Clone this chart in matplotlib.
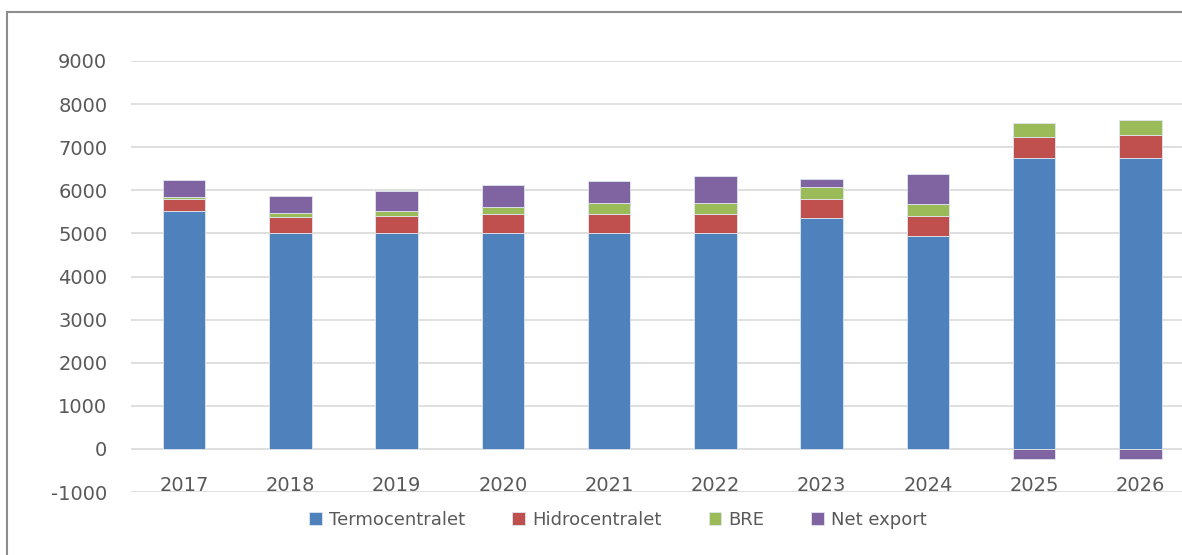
import matplotlib.pyplot as plt
import numpy as np
from matplotlib.patches import Rectangle

plt.rcParams['axes.unicode_minus'] = False

years = ['2017', '2018', '2019', '2020', '2021', '2022', '2023', '2024', '2025', '2026']
termo = [5530, 5000, 5000, 5000, 5000, 5000, 5350, 4950, 6760, 6760]
hidro = [270, 390, 410, 440, 450, 450, 450, 460, 480, 520]
bre = [50, 80, 120, 170, 250, 250, 280, 280, 310, 360]
net_export = [390, 390, 450, 510, 510, 630, 180, 690, -240, -240]

names = ['Termocentralet', 'Hidrocentralet', 'BRE', 'Net export']
colors = ['#4F81BD', '#C0504D', '#9BBB59', '#8064A2']

fig = plt.figure(figsize=(11.82, 5.55), dpi=100)
ax = fig.add_axes([0.1108, 0.1135, 0.899, 0.7766])

# outer frame like the excel chart area
fig.patches.append(Rectangle((0.006, -0.02), 1.1, 1.0 - 0.0216 + 0.02,
                             transform=fig.transFigure, fill=False,
                             edgecolor='#8c8c8c', linewidth=1.5))

x = np.arange(len(years))
w = 0.4
pos_bottom = np.zeros(len(years))
for vals, name, c in zip([termo, hidro, bre, net_export], names, colors):
    v = np.array(vals, dtype=float)
    # negative values start from zero, positive ones stack on top
    bottom = np.where(v >= 0, pos_bottom, 0)
    ax.bar(x, v, w, bottom=bottom, color=c, label=name,
           edgecolor='#dfe6f0', linewidth=0.6, zorder=3)
    pos_bottom = pos_bottom + np.where(v >= 0, v, 0)

ax.set_xlim(-0.5, len(years) - 0.5)
ax.set_ylim(-1000, 9000)
ax.set_yticks(range(-1000, 9001, 1000))
ax.yaxis.grid(True, color='#d9d9d9', linewidth=1.2, zorder=0)
for s in ['left', 'right', 'top', 'bottom']:
    ax.spines[s].set_visible(False)
ax.set_xticks(x)
ax.set_xticklabels(years)
ax.tick_params(axis='x', length=0, pad=-1, labelsize=14, labelcolor='#595959')
ax.tick_params(axis='y', length=0, pad=17, labelsize=14, labelcolor='#595959')
for lbl in ax.get_xticklabels():
    lbl.set_va('baseline')
    lbl.set_zorder(5)

ax.legend(loc='center', bbox_to_anchor=(0.523, 0.063), bbox_transform=fig.transFigure,
          ncol=4, frameon=False, fontsize=13, handlelength=0.7, handleheight=0.7,
          handletextpad=0.4, columnspacing=2.6, labelcolor='#595959')

fig.savefig('out.png', dpi=100)
